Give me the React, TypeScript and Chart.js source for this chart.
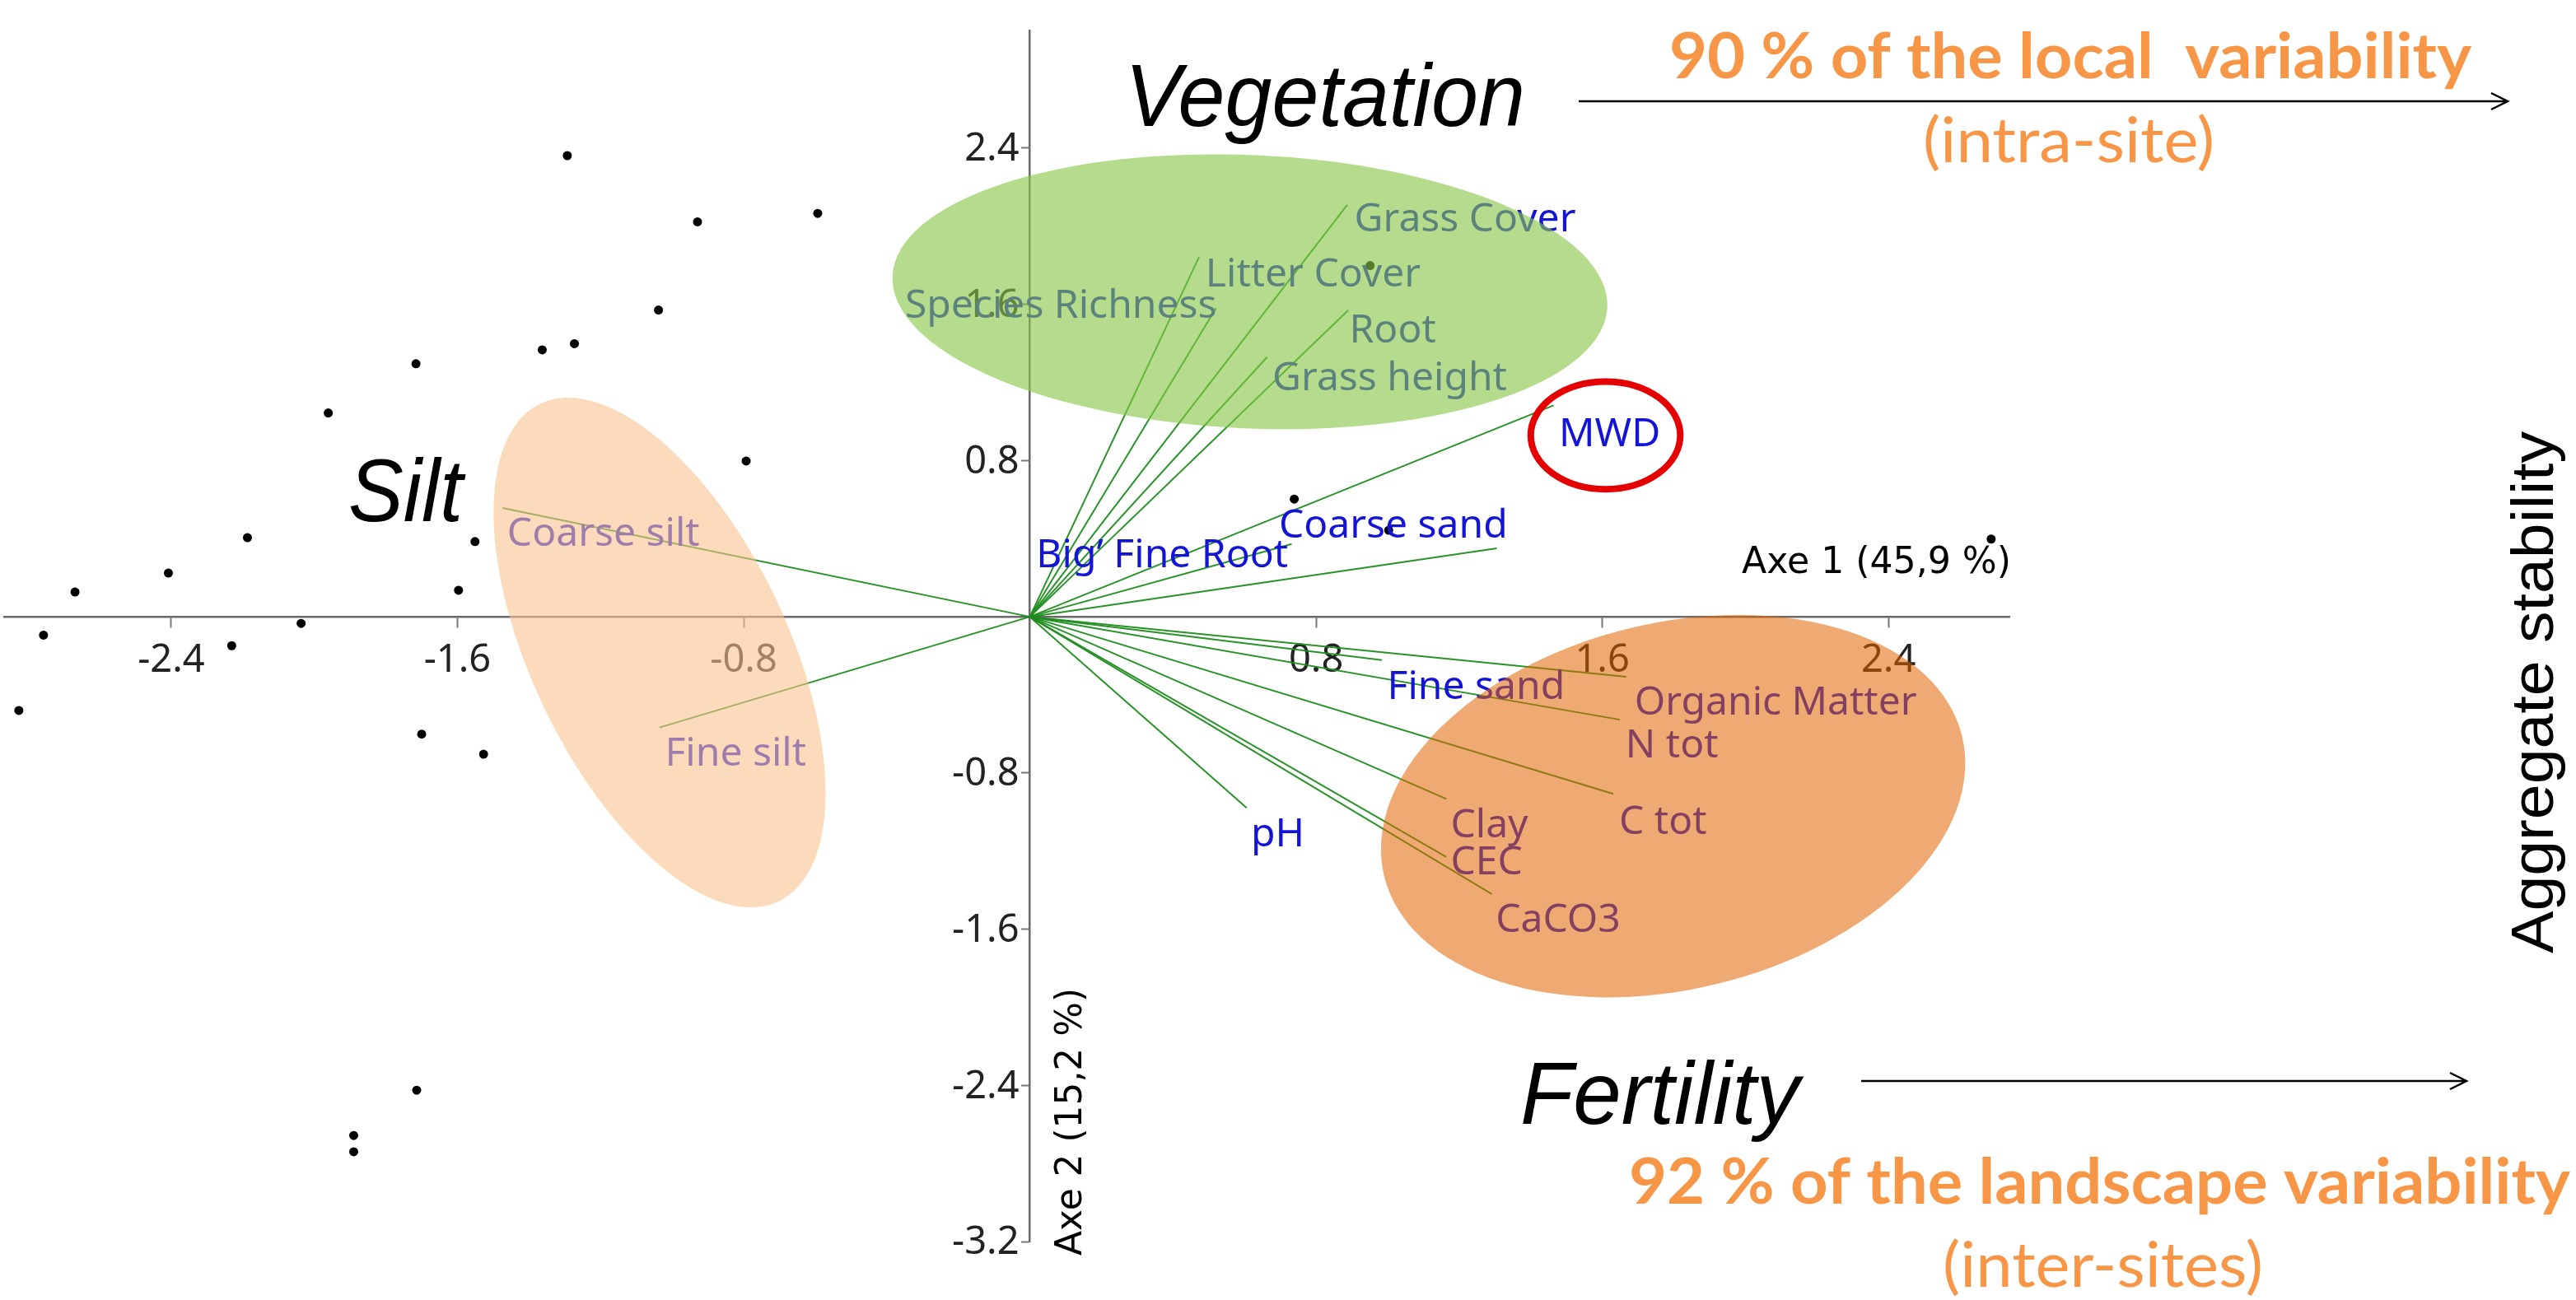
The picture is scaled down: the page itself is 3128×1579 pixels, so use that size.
import React, { useEffect, useRef } from 'react';
import { Chart, registerables } from 'chart.js';

Chart.register(...registerables);

// ---- data: site scores (black dots) ----
const SITE_X = [-1.293, -0.929, -0.593, -1.038, -1.363, -1.273, -1.716, -1.961, -0.793, -2.187, -1.551, -2.408, -2.669, -1.597, -2.757, -2.037, -2.231, -2.826, -1.700, -1.527, -1.714, -1.890, -1.890, 0.951, 0.739, 1.003, 2.687];
const SITE_Y = [2.362, 2.023, 2.066, 1.571, 1.367, 1.399, 1.296, 1.044, 0.798, 0.405, 0.385, 0.224, 0.127, 0.136, -0.094, -0.034, -0.148, -0.480, -0.601, -0.704, -2.425, -2.657, -2.740, 1.799, 0.603, 0.443, 0.398];

// ---- data: variable loadings (green vectors) ----
const VAR_NAMES = ['Grass Cover', 'Litter Cover', 'Species Richness', 'Root', 'Grass height', 'MWD', 'Coarse sand', 'Big\u2019 Fine Root', 'Fine sand', 'Organic Matter', 'N tot', 'C tot', 'Clay', 'CEC', 'CaCO3', 'pH', 'Coarse silt', 'Fine silt'];
const VAR_X = [0.887, 0.473, 0.520, 0.890, 0.663, 1.464, 1.305, 0.732, 0.984, 1.667, 1.649, 1.631, 1.164, 1.164, 1.291, 0.606, -1.474, -1.035];
const VAR_Y = [2.110, 1.843, 1.580, 1.570, 1.330, 1.083, 0.351, 0.373, -0.222, -0.307, -0.527, -0.907, -0.933, -1.230, -1.420, -0.979, 0.557, -0.567];

// ---- axes ----
const X_TICKS = [-2.4, -1.6, -0.8, 0.8, 1.6, 2.4];
const Y_TICKS = [2.4, 1.6, 0.8, -0.8, -1.6, -2.4, -3.2];
const X_TITLE = 'Axe 1 (45,9 %)';
const Y_TITLE = 'Axe 2 (15,2 %)';

// ---- annotation texts ----
const GROUP_TITLES = ['Vegetation', 'Silt', 'Fertility'];
const NOTE_TOP = '90 % of the local  variability';
const NOTE_TOP_SUB = '(intra-site)';
const NOTE_BOTTOM = '92 % of the landscape variability';
const NOTE_BOTTOM_SUB = '(inter-sites)';
const SIDE_TITLE = 'Aggregate stability';

// ---- layout (label anchors in data units: left edge, baseline) ----
const LABEL_ANCHORS: [number, number][] = [
  [0.907, 1.974], [0.491, 1.691], [-0.349, 1.531], [0.893, 1.404], [0.678, 1.160],
  [1.479, 0.873], [0.696, 0.405], [0.018, 0.253], [0.999, -0.422], [1.690, -0.502],
  [1.665, -0.721], [1.647, -1.113], [1.176, -1.130], [1.176, -1.320], [1.302, -1.615],
  [0.618, -1.177], [-1.461, 0.363], [-1.020, -0.763],
];

const ELLIPSES = [
  { cx: 0.615, cy: 1.665, rx: 1.0, ry: 0.70, rot: 2.5, fill: 'rgba(135,198,70,0.62)' },
  { cx: -1.035, cy: -0.183, rx: 0.358, ry: 1.413, rot: -25.6, fill: 'rgba(250,193,143,0.6)' },
  { cx: 1.798, cy: -0.970, rx: 0.831, ry: 0.938, rot: -13.6, fill: 'rgba(226,100,0,0.55)' },
];
const RING = { cx: 1.609, cy: 0.929, rx: 0.209, ry: 0.276 };

function fitText(ctx: CanvasRenderingContext2D, text: string, x: number, y: number, width: number, font: string, color: string, rot = 0) {
  ctx.save();
  ctx.font = font;
  ctx.fillStyle = color;
  ctx.textAlign = 'left';
  ctx.textBaseline = 'alphabetic';
  const w = ctx.measureText(text).width;
  ctx.translate(x, y);
  if (rot) ctx.rotate(rot);
  ctx.scale(width / w, 1);
  ctx.fillText(text, 0, 0);
  ctx.restore();
}

function arrow(ctx: CanvasRenderingContext2D, x1: number, x2: number, y: number) {
  ctx.save();
  ctx.strokeStyle = '#000';
  ctx.lineWidth = 2.5;
  ctx.beginPath();
  ctx.moveTo(x1, y);
  ctx.lineTo(x2, y);
  ctx.moveTo(x2 - 20, y - 10);
  ctx.lineTo(x2, y);
  ctx.lineTo(x2 - 20, y + 10);
  ctx.stroke();
  ctx.restore();
}

const TICK_FONT = '47px "Noto Sans"';

const overlayPlugin = {
  id: 'pcaOverlay',
  afterDatasetsDraw(chart: any) {
    const { ctx, scales } = chart;
    const sx = scales.x;
    const sy = scales.y;
    // y tick labels, placed left of the centred axis
    ctx.save();
    ctx.font = TICK_FONT;
    ctx.fillStyle = '#222';
    ctx.textAlign = 'right';
    ctx.textBaseline = 'middle';
    const axisX = sx.getPixelForValue(0);
    sy.ticks.forEach((t: any) => {
      ctx.fillText(Number(t.value).toFixed(1), axisX - 13, sy.getPixelForValue(t.value) + 2);
    });
    ctx.restore();

    ctx.save();
    ctx.font = '48px "Noto Sans"';
    ctx.fillStyle = 'rgb(20,20,215)';
    ctx.textAlign = 'left';
    ctx.textBaseline = 'alphabetic';
    VAR_NAMES.forEach((n, i) => {
      const [lx, ly] = LABEL_ANCHORS[i];
      ctx.fillText(n, sx.getPixelForValue(lx), sy.getPixelForValue(ly));
    });
    ctx.restore();
  },
  afterDraw(chart: any) {
    const { ctx, scales } = chart;
    const sx = scales.x;
    const sy = scales.y;
    const ux = sx.getPixelForValue(1) - sx.getPixelForValue(0);
    const uy = sy.getPixelForValue(0) - sy.getPixelForValue(1);
    ctx.save();
    ELLIPSES.forEach((e) => {
      ctx.beginPath();
      ctx.ellipse(sx.getPixelForValue(e.cx), sy.getPixelForValue(e.cy), e.rx * ux, e.ry * uy, (e.rot * Math.PI) / 180, 0, Math.PI * 2);
      ctx.fillStyle = e.fill;
      ctx.fill();
    });
    ctx.beginPath();
    ctx.ellipse(sx.getPixelForValue(RING.cx), sy.getPixelForValue(RING.cy), RING.rx * ux, RING.ry * uy, 0, 0, Math.PI * 2);
    ctx.strokeStyle = 'rgb(228,0,0)';
    ctx.lineWidth = 8;
    ctx.stroke();
    ctx.restore();

    // group titles
    fitText(ctx, GROUP_TITLES[0], 1366, 153, 486, 'italic 107px "Liberation Sans"', '#000');
    fitText(ctx, GROUP_TITLES[1], 423, 633, 139, 'italic 107px "Liberation Sans"', '#000');
    fitText(ctx, GROUP_TITLES[2], 1846, 1365, 339, 'italic 107px "Liberation Sans"', '#000');

    // axis titles
    fitText(ctx, X_TITLE, 2115, 696, 327, '45px "DejaVu Sans"', '#000');
    fitText(ctx, Y_TITLE, 1313, 1525, 325, '45px "DejaVu Sans"', '#000', -Math.PI / 2);

    // notes
    const orange = '#F79646';
    fitText(ctx, NOTE_TOP, 2027, 95, 974, 'bold 76px Lato', orange);
    fitText(ctx, NOTE_TOP_SUB, 2335, 197, 354, '76px Lato', orange);
    fitText(ctx, NOTE_BOTTOM, 1978, 1462, 1143, 'bold 76px Lato', orange);
    fitText(ctx, NOTE_BOTTOM_SUB, 2359, 1563, 389, '76px Lato', orange);
    arrow(ctx, 1917, 3045, 123);
    arrow(ctx, 2260, 2995, 1313);

    fitText(ctx, SIDE_TITLE, 3100, 1158, 634, '72px "Liberation Sans"', '#000', -Math.PI / 2);
  },
};

export default function App() {
  const ref = useRef<HTMLCanvasElement | null>(null);
  useEffect(() => {
    if (!ref.current) return;
    const datasets: any[] = VAR_NAMES.map((n, i) => ({
      label: n,
      data: [{ x: 0, y: 0 }, { x: VAR_X[i], y: VAR_Y[i] }],
      showLine: true,
      borderColor: 'rgba(30,140,30,0.95)',
      borderWidth: 2,
      pointRadius: 0,
      fill: false,
    }));
    datasets.push({
      label: 'sites',
      data: SITE_X.map((v, i) => ({ x: v, y: SITE_Y[i] })),
      pointRadius: 5.5,
      backgroundColor: '#000',
      borderWidth: 0,
      showLine: false,
    });
    const tickFont = { family: '"Noto Sans"', size: 47 };
    const chart = new Chart(ref.current, {
      type: 'scatter',
      data: { datasets },
      plugins: [overlayPlugin],
      options: {
        animation: false,
        responsive: true,
        maintainAspectRatio: false,
        layout: { padding: { left: 0, right: 688, top: 37, bottom: 71 } },
        plugins: { legend: { display: false }, tooltip: { enabled: false } },
        scales: {
          x: {
            type: 'linear',
            min: -2.866,
            max: 2.738,
            position: { y: 0 } as any,
            afterBuildTicks: (s: any) => { s.ticks = X_TICKS.map((v) => ({ value: v })); },
            grid: { display: true, drawOnChartArea: false, drawTicks: true, tickLength: 12, tickColor: '#777', tickWidth: 2 },
            border: { display: true, color: '#6a6a6a', width: 2.5 },
            ticks: { font: tickFont, color: '#222', padding: 13, maxRotation: 0, autoSkip: false, callback: (v: any) => Number(v).toFixed(1) },
          },
          y: {
            type: 'linear',
            min: -3.2,
            max: 3.003,
            position: { x: 0 } as any,
            afterBuildTicks: (s: any) => { s.ticks = Y_TICKS.map((v) => ({ value: v })); },
            grid: { display: true, drawOnChartArea: false, drawTicks: true, tickLength: 9, tickColor: '#777', tickWidth: 2 },
            border: { display: true, color: '#6a6a6a', width: 2.5 },
            ticks: { display: false, font: tickFont, autoSkip: false },
          },
        },
      },
    });
    return () => chart.destroy();
  }, []);
  return (
    <div style={{ position: 'absolute', left: 0, top: 0, width: 3128, height: 1579, background: '#fff' }}>
      <canvas ref={ref} />
    </div>
  );
}
